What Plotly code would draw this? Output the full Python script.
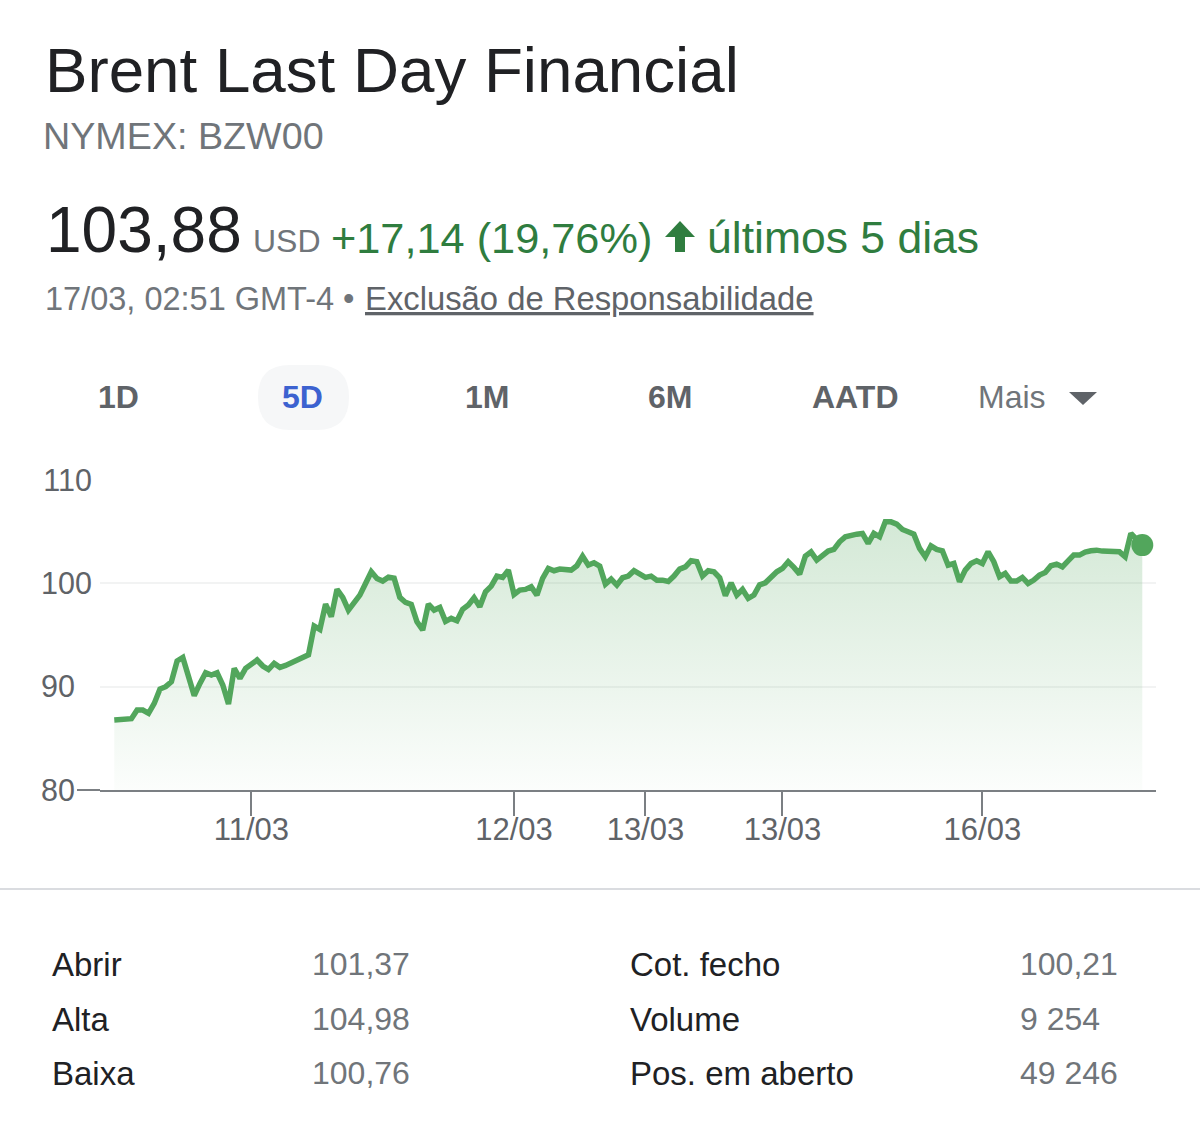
import plotly.graph_objects as go

# data
prices = [
    86.77, 86.77, 86.90, 86.90, 87.74, 87.74, 87.42, 88.38, 89.77, 90.00,
    90.48, 92.48, 92.83, 91.13, 89.13, 90.32, 91.35, 91.13, 91.35, 90.16,
    88.32, 91.77, 90.80, 91.77, 92.19, 92.58, 92.00, 91.67, 92.25, 91.87,
    92.06, 92.35, 92.51, 92.80, 93.09, 95.86, 95.54, 97.99, 96.77, 99.41,
    98.64, 97.41, 98.15, 98.86, 99.99, 101.12, 100.47, 100.22, 100.60, 100.50,
    98.64, 98.15, 97.96, 96.28, 95.48, 97.99, 97.41, 97.67, 96.32,
    96.61, 96.38, 97.48, 97.90, 98.60, 97.73, 99.18, 99.73, 100.70, 100.57,
    101.28, 98.93, 99.35, 99.41, 99.67, 98.86, 100.47, 101.44, 101.22, 101.38,
    101.38, 101.28, 101.70, 102.63, 101.76, 101.99, 101.67, 99.93, 100.41, 99.83,
    100.54, 100.70, 101.22, 100.96, 100.57, 100.70, 100.31, 100.31, 100.18, 100.70,
    101.38, 101.60, 102.18, 102.09, 100.70, 101.22, 101.12, 100.54, 98.80, 100.05,
    98.86, 99.41, 98.54, 98.86, 99.86, 100.05, 100.57, 101.12, 101.44, 102.09,
    101.54, 100.89,
    102.63, 103.05, 102.25, 102.73, 103.12, 103.28, 104.02, 104.50, 104.67, 104.76,
    104.83, 103.86, 104.83, 104.50, 105.95, 105.95, 105.73, 105.21, 104.99, 104.76,
    103.38, 102.57, 103.63, 103.28, 103.15, 101.76, 101.92, 100.15, 101.28, 101.92,
    102.18, 101.92, 103.05, 102.09, 100.64, 100.96, 100.22, 100.22, 100.57, 99.99,
    100.31, 100.80, 101.05, 101.70, 101.86, 101.60, 102.18, 102.73, 102.73, 103.02,
    103.15, 103.21, 103.12, 103.09, 102.99, 103.05, 102.57, 104.83, 104.25, 103.70,
]
date_ticks = [24, 70, 93, 117, 152]
date_labels = ["11/03", "12/03", "13/03", "13/03", "16/03"]
price_ticks = [80, 90, 100, 110]
price_labels = ["80\u00a0\u00a0", "90\u00a0\u00a0", "100", "110"]
tabs = ["1D", "5D", "1M", "6M", "AATD"]
stat_names_left = ["Abrir", "Alta", "Baixa"]
stat_values_left = ["101,37", "104,98", "100,76"]
stat_names_right = ["Cot. fecho", "Volume", "Pos. em aberto"]
stat_values_right = ["100,21", "9 254", "49 246"]

W = 1200
H = 1133
FONT = "Liberation Sans"
DARK = "#202124"
GREY = "#5f6368"
SOFT = "#70757a"
GREEN = "#2f7d3f"
LINE = "#52a65c"


def px(x):
    return x / W


def py(y):
    return 1 - y / H


x = list(range(len(prices)))
fig = go.Figure()
# base for the gradient area
fig.add_trace(go.Scatter(x=x, y=[price_ticks[0]] * len(x), mode="lines",
                         line=dict(width=0), hoverinfo="skip", showlegend=False))
fig.add_trace(go.Scatter(x=x, y=prices, mode="lines", fill="tonexty",
                         fillgradient=dict(type="vertical",
                                           colorscale=[[0, "rgba(82,166,92,0.02)"], [1, "rgba(82,166,92,0.25)"]]),
                         line=dict(color=LINE, width=5.5), showlegend=False))
fig.add_trace(go.Scatter(x=x[-1:], y=prices[-1:], mode="markers",
                         marker=dict(color=LINE, size=22), cliponaxis=False, showlegend=False))


def label(text, x0, y0, size, color=DARK, anchor="left", weight=None):
    f = dict(family=FONT, size=size, color=color)
    if weight:
        f["weight"] = weight
    return dict(text=text, x=px(x0), y=py(y0), xref="paper", yref="paper", xanchor=anchor,
                yanchor="middle", showarrow=False, font=f)


notes = [
    label("Brent Last Day Financial", 43, 69, 63.7),
    label("NYMEX: BZW00", 41, 136, 37.7, SOFT),
    label("103,88", 44, 230, 64),
    label("USD", 251, 241, 32, SOFT),
    label("+17,14 (19,76%)", 329, 238, 43.3, GREEN),
    label("últimos 5 dias", 705, 238, 44.5, GREEN),
    label("17/03, 02:51 GMT-4 •", 43, 299, 32.5, SOFT),
    label("<u>Exclusão de Responsabilidade</u>", 363, 299, 32.8, GREY),
    label("Mais", 976, 397, 32, SOFT),
]
tab_centres = [118, 302, 487, 670, 855]
for name, cx in zip(tabs, tab_centres):
    notes.append(label(name, cx, 397, 32, "#3c62d0" if name == "5D" else GREY, "center", 700))
for i, y0 in enumerate([964, 1019, 1073]):
    notes.append(label(stat_names_left[i], 50, y0, 33))
    notes.append(label(stat_values_left[i], 310, y0, 32, SOFT))
    notes.append(label(stat_names_right[i], 628, y0, 33))
    notes.append(label(stat_values_right[i], 1018, y0, 32, SOFT))

shapes = [
    # 5D pill
    dict(type="path", xref="paper", yref="paper", line=dict(width=0), fillcolor="#f6f7f8", layer="below",
         path=f"M {px(290)} {py(365)} L {px(317)} {py(365)} Q {px(349)} {py(365)} {px(349)} {py(397)} "
              f"Q {px(349)} {py(430)} {px(317)} {py(430)} L {px(290)} {py(430)} "
              f"Q {px(258)} {py(430)} {px(258)} {py(397)} Q {px(258)} {py(365)} {px(290)} {py(365)} Z"),
    # up arrow
    dict(type="path", xref="paper", yref="paper", line=dict(width=0), fillcolor=GREEN,
         path=f"M {px(680)} {py(221)} L {px(695)} {py(237)} L {px(685)} {py(237)} L {px(685)} {py(252)} "
              f"L {px(675)} {py(252)} L {px(675)} {py(237)} L {px(665)} {py(237)} Z"),
    # Mais triangle
    dict(type="path", xref="paper", yref="paper", line=dict(width=0), fillcolor=GREY,
         path=f"M {px(1069)} {py(392)} L {px(1097)} {py(392)} L {px(1083)} {py(405)} Z"),
    # axis line reaches the 80 label
    dict(type="line", xref="paper", yref="paper", x0=px(77), x1=px(100), y0=py(790), y1=py(790),
         line=dict(color="#7b7f83", width=2)),
    # separator
    dict(type="line", xref="paper", yref="paper", x0=0, x1=1, y0=py(889), y1=py(889),
         line=dict(color="#dadce0", width=2)),
]

fig.update_layout(
    width=W, height=H, margin=dict(l=0, r=0, t=0, b=0),
    paper_bgcolor="white", plot_bgcolor="white",
    showlegend=False, hovermode=False,
    annotations=notes, shapes=shapes,
    font=dict(family=FONT),
    xaxis=dict(domain=[px(100), px(1156)], range=[-2.5, 182.4], tickmode="array", automargin=False,
               tickvals=date_ticks, ticktext=date_labels, ticks="outside", ticklen=24, tickwidth=2,
               ticklabelstandoff=-13,
               tickcolor="#7b7f83", showline=True, linecolor="#7b7f83", linewidth=2, showgrid=False,
               zeroline=False, tickfont=dict(size=31, color=GREY, family=FONT)),
    yaxis=dict(domain=[py(790), py(480)], range=[80, 110], tickmode="array", automargin=False,
               tickvals=price_ticks, ticktext=price_labels, ticks="outside", ticklen=1,
               tickcolor="rgba(0,0,0,0)", showgrid=True, gridcolor="#f2f3f3", gridwidth=2,
               zeroline=False, showline=False, tickfont=dict(size=30.5, color=GREY, family=FONT)),
)

fig.write_html("out.html", config={"displayModeBar": False}, post_script="document.body.style.margin='0';")
